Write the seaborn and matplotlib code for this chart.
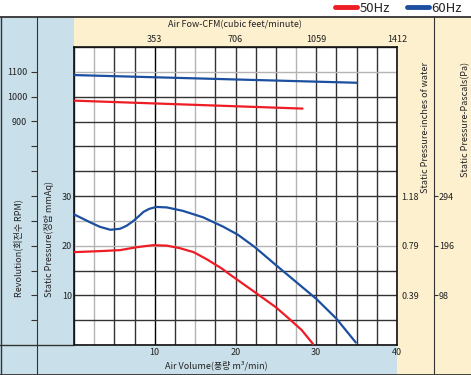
import matplotlib
matplotlib.use('Agg')
import matplotlib.pyplot as plt
import seaborn as sns
import numpy as np
from matplotlib.patches import Rectangle
from matplotlib.lines import Line2D

# ---------------- data ----------------
press_60_x = [0, 1.0, 2.0, 3.2, 4.5, 5.7, 6.5, 7.3, 8.0, 8.6, 9.3, 10.2, 11.5, 13.5, 16.0, 18.5, 20.3, 22.4, 25.0, 27.5, 30.0, 32.5, 34.9]
press_60_y = [26.3, 25.5, 24.7, 23.8, 23.2, 23.4, 24.0, 24.9, 25.9, 26.8, 27.4, 27.8, 27.7, 27.0, 25.7, 23.8, 22.2, 19.7, 16.1, 12.7, 9.3, 5.3, 0.5]
press_50_x = [0, 3.2, 5.7, 7.8, 9.8, 11.5, 13.1, 14.8, 16.4, 18.3, 19.3, 22.6, 25.0, 26.7, 28.2, 29.6]
press_50_y = [18.7, 18.9, 19.1, 19.7, 20.1, 20.0, 19.5, 18.7, 17.3, 15.4, 14.2, 10.4, 7.6, 5.2, 3.0, 0.2]
rpm_60_x = [0, 35]
rpm_60_y = [1087, 1056]
rpm_50_x = [0, 28.3]
rpm_50_y = [984, 952]

series_labels = ['50Hz', '60Hz']
x_tick_values = [10, 20, 30, 40]
x_tick_labels = ['10', '20', '30', '40']
cfm_tick_labels = ['353', '706', '1059', '1412']
press_tick_values = [10, 20, 30]
press_tick_labels = ['10', '20', '30']
rpm_tick_values = [900, 1000, 1100]
rpm_tick_labels = ['900', '1000', '1100']
inch_tick_values = [0.39, 0.79, 1.18]
inch_tick_labels = ['0.39', '0.79', '1.18']
pa_tick_values = [98, 196, 294]
pa_tick_labels = ['98', '196', '294']

# ---------------- style ----------------
sns.set_style('white')
plt.rcParams['font.family'] = ['Noto Sans CJK KR', 'DejaVu Sans']
plt.rcParams['axes.unicode_minus'] = False
RED = '#ee1c25'
BLUE = '#1c4f9f'
BEIGE = '#fdf0cf'
LBLUE = '#c9e0ea'
DARK = '#333333'
TXT = '#222222'
FS = 6.5

W, H = 471, 375
fig = plt.figure(figsize=(W / 100, H / 100), dpi=100)
fig.patch.set_facecolor('white')

def fx(x):
    return x / W

def fy(y):
    return 1 - y / H

def frect(x0, y0, x1, y1, color):
    fig.add_artist(Rectangle((fx(x0), fy(y1)), fx(x1) - fx(x0), fy(y0) - fy(y1),
                             transform=fig.transFigure, facecolor=color, edgecolor='none', zorder=0))

def fline(x0, y0, x1, y1, lw=1.0, color=DARK):
    fig.add_artist(Line2D([fx(x0), fx(x1)], [fy(y0), fy(y1)], transform=fig.transFigure,
                          color=color, lw=lw, zorder=5))

# panels
frect(0, 17, 74, 375, LBLUE)
frect(0, 345, 397, 375, LBLUE)
frect(74, 17, 471, 47, BEIGE)
frect(397, 47, 471, 375, BEIGE)

# ---------------- main axes ----------------
L, R, T, B = 74, 397, 47, 345
ax = fig.add_axes([fx(L), fy(B), fx(R) - fx(L), fy(T) - fy(B)])
ax.set_facecolor('white')
ax.set_xlim(0, 40)
ax.set_ylim(0, 60)

xt = np.arange(0, 40.01, 2.5)
ax.set_xticks(xt)
ax.set_xticklabels([x_tick_labels[x_tick_values.index(v)] if v in x_tick_values else '' for v in xt])
yt = np.arange(0, 60.01, 5)
ax.set_yticks(yt)
ax.set_yticklabels([press_tick_labels[press_tick_values.index(v)] if v in press_tick_values else '' for v in yt])
ax.tick_params(axis='both', length=0, labelsize=FS, colors=TXT)
ax.tick_params(axis='x', pad=2)
ax.tick_params(axis='y', pad=1.5)
ax.grid(True, color=DARK, lw=1.0)
for v, gl in zip(xt, ax.get_xgridlines()):
    if v in (2.5, 15, 27.5):
        gl.set_color('#b4b4b4')
    if v == 10:
        gl.set_color('#000000')
for v, gl in zip(yt, ax.get_ygridlines()):
    if v in (20, 25, 55):
        gl.set_color('#b4b4b4')
for s in ax.spines.values():
    s.set_color('#111111')
    s.set_linewidth(1.2)
ax.set_axisbelow(True)

sns.lineplot(x=press_50_x, y=press_50_y, ax=ax, color=RED, lw=1.6, zorder=3)
sns.lineplot(x=press_60_x, y=press_60_y, ax=ax, color=BLUE, lw=1.6, zorder=3)
for ln in ax.get_lines():
    ln.set_solid_joinstyle('round')

# top CFM axis
axt = ax.secondary_xaxis('top')
axt.set_xticks(x_tick_values)
axt.set_xticklabels(cfm_tick_labels)
axt.tick_params(length=0, pad=2, labelsize=FS, colors=TXT)
axt.spines['top'].set_visible(False)

# RPM axis (left, outer)
axr = ax.twinx()
axr.set_ylim(0, 1200)
sns.lineplot(x=rpm_50_x, y=rpm_50_y, ax=axr, color=RED, lw=1.6)
sns.lineplot(x=rpm_60_x, y=rpm_60_y, ax=axr, color=BLUE, lw=1.6)
axr.yaxis.tick_left()
axr.spines['left'].set_position(('axes', (37 - L) / (R - L)))
for s in axr.spines.values():
    s.set_visible(False)
rt = np.arange(100, 1100.1, 100)
axr.set_yticks(rt)
axr.set_yticklabels([rpm_tick_labels[rpm_tick_values.index(v)] if v in rpm_tick_values else '' for v in rt])
axr.tick_params(axis='y', direction='out', length=4, width=0.8, color=DARK, pad=3, labelsize=FS, labelcolor=TXT)
axr.set_xlim(0, 40)
axr.grid(False)

# right axes: inches of water, pascals
ax_in = ax.secondary_yaxis('right', functions=(lambda p: p / 25.4, lambda v: v * 25.4))
ax_in.set_yticks(inch_tick_values)
ax_in.set_yticklabels(inch_tick_labels)
ax_in.tick_params(length=0, pad=3, labelsize=FS, colors=TXT)
ax_in.spines['right'].set_visible(False)

ax_pa = ax.secondary_yaxis((434 - L) / (R - L), functions=(lambda p: p * 9.80665, lambda v: v / 9.80665))
ax_pa.set_yticks(pa_tick_values)
ax_pa.set_yticklabels(pa_tick_labels)
ax_pa.tick_params(direction='out', length=3, width=0.8, color=DARK, pad=0.5, labelsize=FS, labelcolor=TXT)
ax_pa.spines['right'].set_visible(False)

# frame lines
fline(0, 17, 471, 17, lw=1.3)
fline(0, 374.5, 471, 374.5, lw=1.3)
fline(0.5, 17, 0.5, 375, lw=1.0)
fline(37, 17, 37, 375, lw=0.8)
fline(434, 17, 434, 375, lw=0.8)
fline(0, 345, 74, 345, lw=1.0)

# labels
fig.text(fx(18), fy(297), 'Revolution(회전수 RPM)', rotation=90, ha='center', va='bottom', fontsize=FS, color=TXT)
fig.text(fx(49), fy(297), 'Static Pressure(정압 mmAq)', rotation=90, ha='center', va='bottom', fontsize=FS, color=TXT)
fig.text(fx(426), fy(62), 'Static Pressure-inches of water', rotation=90, ha='center', va='top', fontsize=FS, color=TXT)
fig.text(fx(466), fy(62), 'Static Pressure-Pascals(Pa)', rotation=90, ha='center', va='top', fontsize=FS, color=TXT)
fig.text(fx(235), fy(25), 'Air Fow-CFM(cubic feet/minute)', ha='center', va='center', fontsize=FS, color=TXT)
fig.text(fx(216), fy(365), 'Air Volume(풍량 m³/min)', ha='center', va='center', fontsize=FS, color=TXT)

# legend
handles = [Line2D([], [], color=RED, lw=3.5), Line2D([], [], color=BLUE, lw=3.5)]
fig.legend(handles, series_labels, loc='center right', bbox_to_anchor=(fx(462), fy(8)), ncol=2,
           frameon=False, fontsize=9.5, handlelength=1.7, columnspacing=1.3, handletextpad=0.15,
           borderaxespad=0, borderpad=0)

fig.savefig('out.png', dpi=100)
